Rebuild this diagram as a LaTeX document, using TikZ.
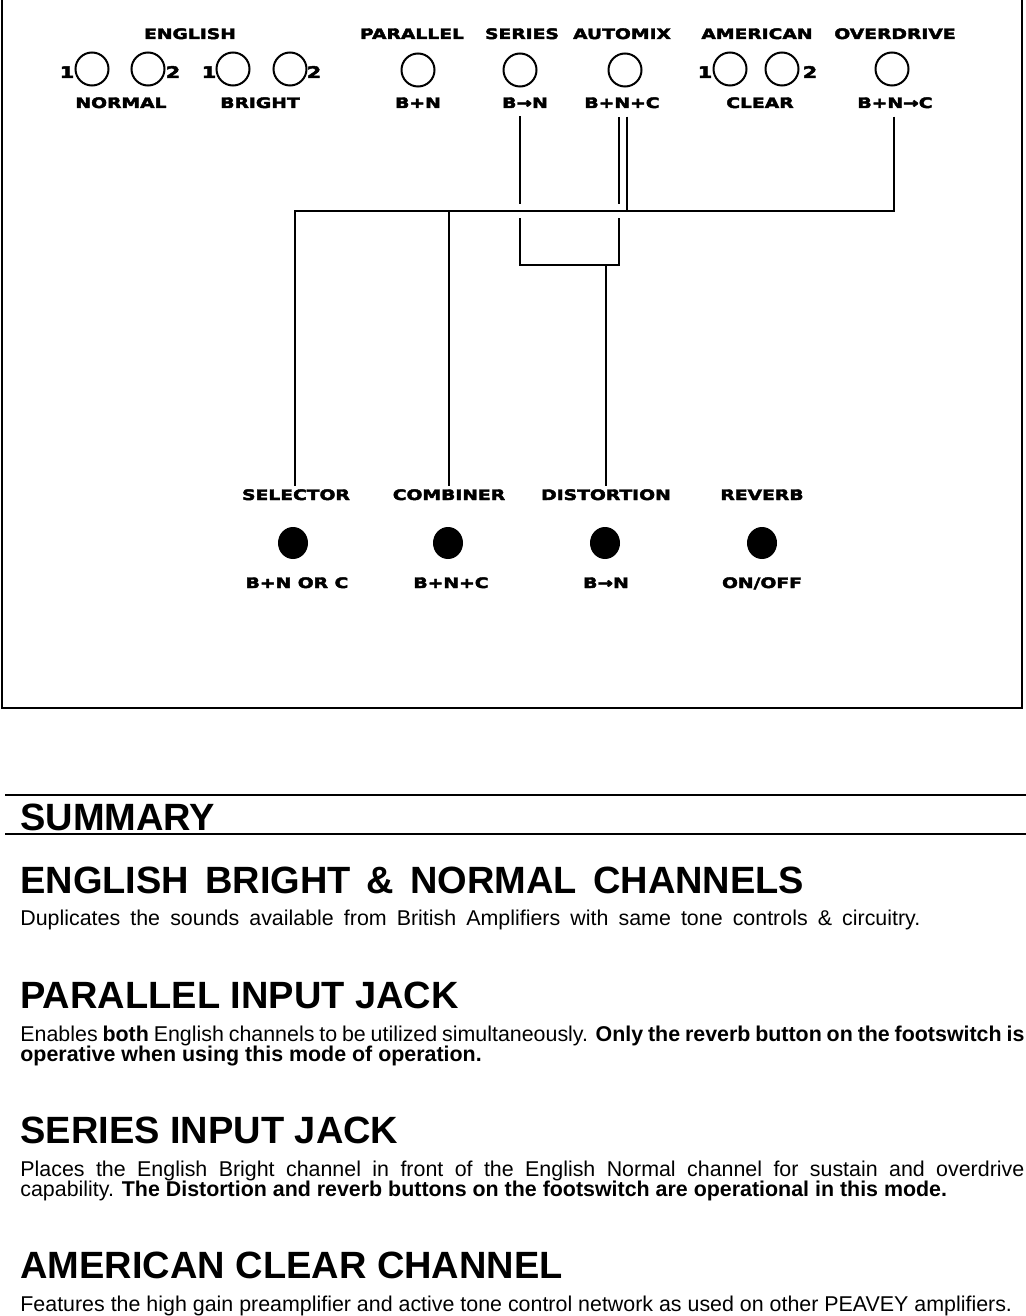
\documentclass[tikz,border=0pt]{standalone}
\usepackage{fontspec}
\setmainfont{Liberation Sans}
\newfontfamily\panelfont{DejaVu Sans Bold}[FakeStretch=1.3, FakeBold=3]
\usepackage{tikz}
\usetikzlibrary{shapes.geometric}
\tikzstyle{jack} = [circle, draw=black, line width=1pt, minimum size=16.5pt, inner sep=0pt]
\tikzstyle{button} = [ellipse, fill=black, minimum width=15pt, minimum height=16pt, inner sep=0pt]
\tikzstyle{tag} = [font=\panelfont\fontsize{7.2}{8}\selectfont, inner xsep=0pt, inner ysep=1.5pt, anchor=base]
\tikzstyle{val} = [tag, inner ysep=4pt]
\tikzstyle{num} = [tag, font=\panelfont\fontsize{8}{9}\selectfont]
\tikzstyle{wire} = [line width=1.1pt]
\tikzstyle{rule} = [line width=1.2pt]
\tikzstyle{head} = [font=\bfseries\fontsize{19}{22}\selectfont, anchor=base west, inner sep=0pt]
\tikzstyle{body} = [font=\fontsize{10.7}{13}\selectfont, anchor=base west, inner sep=0pt]

\begin{document}
\begin{tikzpicture}[x=0.5pt, y=-0.5pt]
	\useasboundingbox (0,0) rectangle (1026,1316);
	\draw[line width=0.7pt] (2,-20) rectangle (1022,708);

	% amp front panel
	\node[tag] (engT) at (190,39) {ENGLISH};
	\node[tag] (parT) at (412,39) {PARALLEL};
	\node[tag] (serT) at (522,39) {SERIES};
	\node[tag] (amxT) at (622,39) {AUTOMIX};
	\node[tag] (amrT) at (757,39) {AMERICAN};
	\node[tag] (ovdT) at (895,39) {OVERDRIVE};
	\node[jack] (nrm1) at (92,69) {};
	\node[jack] (nrm2) at (148,69) {};
	\node[jack] (brt1) at (233,69) {};
	\node[jack] (brt2) at (290,69) {};
	\node[jack] (par) at (418,70) {};
	\node[jack] (ser) at (520,70) {};
	\node[jack] (amx) at (625,70) {};
	\node[jack] (amr1) at (730,69) {};
	\node[jack] (amr2) at (782,69) {};
	\node[jack] (ovd) at (892,69) {};
	\node[num] (nrm1n) at (67,78) {1};
	\node[num] (nrm2n) at (173,78) {2};
	\node[num] (brt1n) at (209,78) {1};
	\node[num] (brt2n) at (314,78) {2};
	\node[num] (amr1n) at (705,78) {1};
	\node[num] (amr2n) at (810,78) {2};
	\node[val] (nrmV) at (121,108) {NORMAL};
	\node[val] (brtV) at (260,108) {BRIGHT};
	\node[val] (parV) at (418,108) {B+N};
	\node[val] (serV) at (525,108) {B→N};
	\node[val] (amxV) at (622,108) {B+N+C};
	\node[val] (amrV) at (760,108) {CLEAR};
	\node[val] (ovdV) at (895,108) {B+N→C};

	% footswitch
	\node[tag] (selL) at (296,500) {SELECTOR};
	\node[tag] (cmbL) at (449,500) {COMBINER};
	\node[tag] (dstL) at (606,500) {DISTORTION};
	\node[tag] (rvbL) at (762,500) {REVERB};
	\node[button] (sel) at (293,543) {};
	\node[button] (cmb) at (448,543) {};
	\node[button] (dst) at (605,543) {};
	\node[button] (rvb) at (762,543) {};
	\node[tag] (selV) at (297,588) {B+N OR C};
	\node[tag] (cmbV) at (451,588) {B+N+C};
	\node[tag] (dstV) at (606,588) {B→N};
	\node[tag] (rvbV) at (762,588) {ON/OFF};

	% wiring
	\coordinate (busL) at (295,211);
	\coordinate (busR) at (894,211);
	\coordinate (amxJ) at (627,211);
	\coordinate (brkL) at (520,265);
	\coordinate (brkR) at (619,265);
	\draw[wire] (serV.south -| brkL) -- (brkL) -- (brkR) -- (amxV.south -| brkR);
	\draw[wire, preaction={draw=white, line width=7pt}] (ovdV.south -| busR) -- (busR) -- (busL) -- (selL.north -| busL);
	\draw[wire] (amxV.south -| amxJ) -- (amxJ);
	\draw[wire] (cmbL.north) -- (cmbL.north |- busL);
	\draw[wire] (dstL.north) -- (dstL.north |- brkL);

	% summary
	\draw[rule] (5,795) -- (1030,795);
	\draw[rule] (5,834) -- (1030,834);
	\node[head] (sum) at (20,830) {SUMMARY};
	\node[head] (engH) at (20,893) {\makebox[392pt][s]{ENGLISH BRIGHT \& NORMAL CHANNELS}};
	\node[body] (engB) at (20,925) {\makebox[450pt][s]{Duplicates the sounds available from British Amplifiers with same tone controls \& circuitry.}};
	\node[head] (parH) at (20,1008) {PARALLEL INPUT JACK};
	\node[body] (parB1) at (20,1041) {\makebox[502pt][s]{Enables \textbf{both} English channels to be utilized simultaneously. \textbf{Only the reverb button on the footswitch is}}};
	\node[body] (parB2) at (20,1061) {\textbf{operative when using this mode of operation.}};
	\node[head] (serH) at (20,1143) {SERIES INPUT JACK};
	\node[body] (serB1) at (20,1176) {\makebox[502pt][s]{Places the English Bright channel in front of the English Normal channel for sustain and overdrive}};
	\node[body] (serB2) at (20,1196) {capability. \textbf{The Distortion and reverb buttons on the footswitch are operational in this mode.}};
	\node[head] (amrH) at (20,1278) {AMERICAN CLEAR CHANNEL};
	\node[body] (amrB) at (20,1311) {Features the high gain preamplifier and active tone control network as used on other PEAVEY amplifiers.};
\end{tikzpicture}
\end{document}
